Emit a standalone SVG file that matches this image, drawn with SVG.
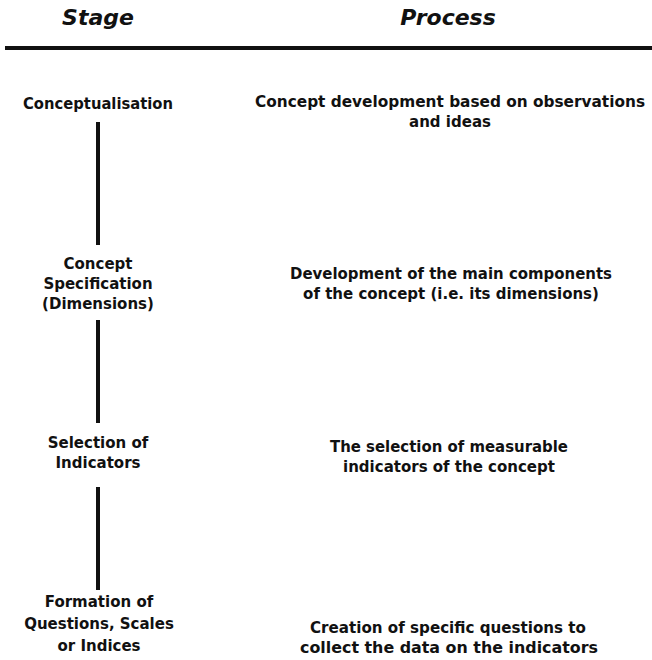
<svg xmlns="http://www.w3.org/2000/svg" width="652" height="660" viewBox="0 0 652 660">
<style>
.h{font-family:"DejaVu Sans","Liberation Sans",sans-serif;font-weight:bold;font-style:italic;font-size:22px;fill:#111;text-anchor:middle}
.t{font-family:"DejaVu Sans","Liberation Sans",sans-serif;font-weight:bold;font-size:15px;fill:#111;text-anchor:middle}
.c{stroke:#111;stroke-width:4;fill:none}
</style>
<rect width="652" height="660" fill="#fff"/>
<g id="header">
<text class="h" x="98" y="25">Stage</text>
<text class="h" x="448" y="25">Process</text>
<line x1="5" y1="48" x2="652" y2="48" stroke="#111" stroke-width="4"/>
</g>
<g id="connectors">
<line class="c" x1="98" y1="122" x2="98" y2="245"/>
<line class="c" x1="98" y1="320" x2="98" y2="423"/>
<line class="c" x1="98" y1="487" x2="98" y2="590"/>
</g>
<g id="stage1"><text class="t" x="98" y="109" textLength="150" lengthAdjust="spacingAndGlyphs">Conceptualisation</text></g>
<g id="process1"><text class="t" x="450" y="107" textLength="390" lengthAdjust="spacingAndGlyphs">Concept development based on observations</text><text class="t" x="450" y="127">and ideas</text></g>
<g id="stage2"><text class="t" x="98" y="269">Concept</text><text class="t" x="98" y="289">Specification</text><text class="t" x="98" y="309">(Dimensions)</text></g>
<g id="process2"><text class="t" x="451" y="279" textLength="322" lengthAdjust="spacingAndGlyphs">Development of the main components</text><text class="t" x="451" y="299">of the concept (i.e. its dimensions)</text></g>
<g id="stage3"><text class="t" x="98" y="448">Selection of</text><text class="t" x="98" y="468">Indicators</text></g>
<g id="process3"><text class="t" x="449" y="452" textLength="238" lengthAdjust="spacingAndGlyphs">The selection of measurable</text><text class="t" x="449" y="472">indicators of the concept</text></g>
<g id="stage4"><text class="t" x="99" y="607">Formation of</text><text class="t" x="99" y="629">Questions, Scales</text><text class="t" x="99" y="651">or Indices</text></g>
<g id="process4"><text class="t" x="448" y="633" textLength="276" lengthAdjust="spacingAndGlyphs">Creation of specific questions to</text><text class="t" x="449" y="653" textLength="298" lengthAdjust="spacingAndGlyphs">collect the data on the indicators</text></g>
</svg>
